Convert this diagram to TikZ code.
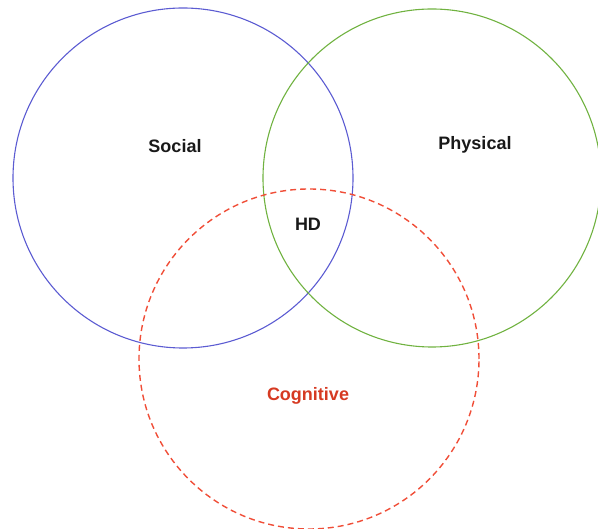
\documentclass[tikz,border=0pt]{standalone}
\usepackage{fontspec}
\setmainfont{Liberation Sans}
\definecolor{socialblue}{RGB}{92,92,210}
\definecolor{physgreen}{RGB}{112,178,64}
\definecolor{cogred}{RGB}{240,78,56}
\definecolor{cogtext}{RGB}{214,58,34}
\begin{document}
\begin{tikzpicture}[x=1pt,y=-1pt,
  lbl/.style={font=\fontsize{18}{20}\selectfont\bfseries, text=black!90, inner sep=0pt},
  ring/.style={circle, inner sep=0pt, minimum size=340pt}]
\useasboundingbox (0,0) rectangle (598,529);
\node[ring, draw=socialblue, line width=1.1pt] (social) at (183,178) {};
\node[ring, draw=physgreen, line width=1.1pt, minimum size=338pt] (physical) at (432,178) {};
\node[ring, draw=cogred, line width=1.4pt, dash pattern=on 6pt off 4pt, minimum size=340pt] (cognitive) at (309,359) {};
\node[lbl] (socialtxt) at (175,146) {Social};
\node[lbl] (physicaltxt) at (475,145) {Physical};
\node[lbl] (hd) at (308,224) {HD};
\node[lbl, text=cogtext] (cogtxt) at (308,396) {Cognitive};
\end{tikzpicture}
\end{document}
